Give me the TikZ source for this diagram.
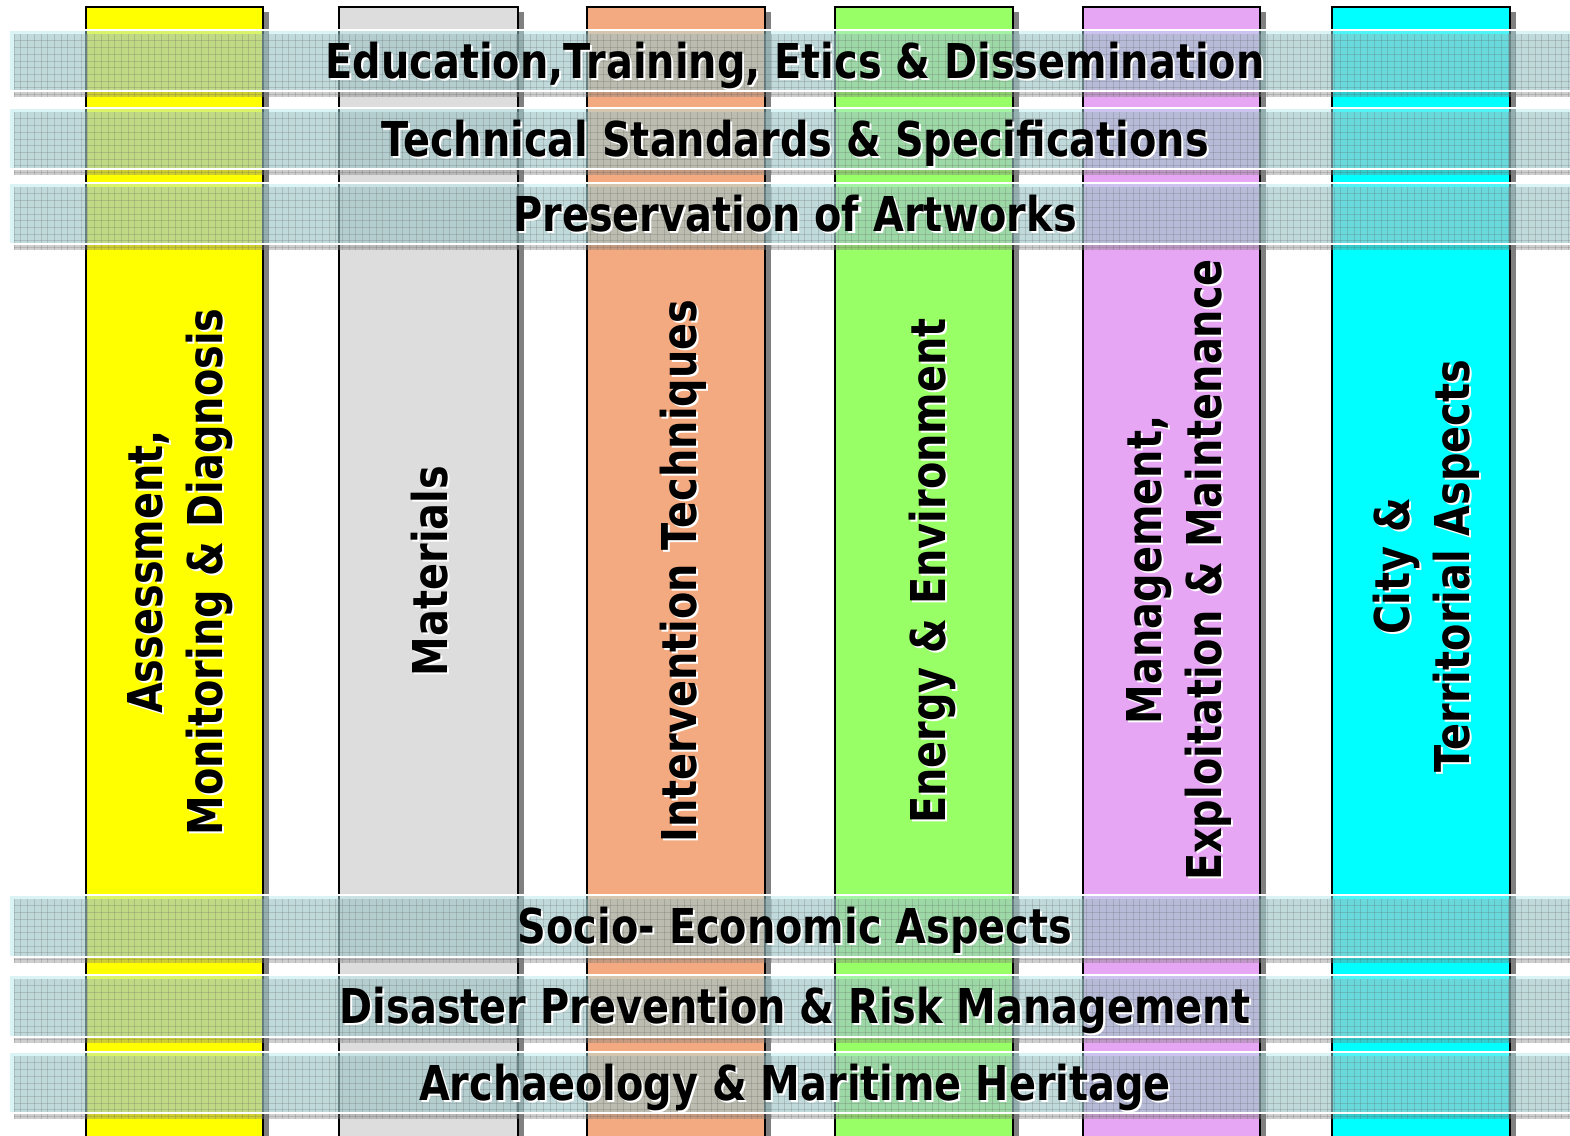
\documentclass[tikz,border=0pt]{standalone}
\usepackage{fontspec}
\newfontfamily\tfont[FakeStretch=0.83]{DejaVu Sans}
\definecolor{pyellow}{HTML}{FFFF00}
\definecolor{pgray}{HTML}{DDDDDD}
\definecolor{psalmon}{HTML}{F4AA80}
\definecolor{pgreen}{HTML}{99FF66}
\definecolor{pviolet}{HTML}{E6A6F4}
\definecolor{pcyan}{HTML}{00FFFF}
\definecolor{bandc}{RGB}{175,232,236}
\definecolor{pshadow}{HTML}{808080}
\newcommand\shh[1]{\makebox[0pt][l]{\hspace{2pt}\raisebox{-2pt}{\color{white}#1}}#1}
\newcommand\shv[1]{\makebox[0pt][l]{\hspace{-2pt}\raisebox{-2pt}{\color{white}#1}}#1}
\tikzset{
  pillarbox/.style={draw=black, line width=1.8pt},
  pillarshadow/.style={fill=pshadow},
  bandshadow/.style={fill=pshadow, fill opacity=0.38},
  bandfill/.style={fill=bandc, fill opacity=0.45},
  gridline/.style={draw=gray!70!black, line width=0.6pt, opacity=0.22},
  hlabel/.style={font=\tfont\bfseries\fontsize{48}{57}\selectfont, inner sep=0pt, anchor=base, text=black},
  vlabel/.style={font=\tfont\bfseries\fontsize{48}{57}\selectfont, inner sep=0pt, anchor=center, rotate=90, align=center, text=black},
}
\begin{document}
\begin{tikzpicture}[x=1pt,y=-1pt]
\useasboundingbox (0,0) rectangle (1570,1135);
\fill[white] (0,0) rectangle (1570,1135);
% pillars
\foreach \l/\r/\c in {86/263/pyellow, 339/518/pgray, 587/765/psalmon, 835/1013/pgreen, 1083/1260/pviolet, 1332/1510/pcyan}{
  \fill[pillarshadow] (\l+6,12) rectangle (\r+6,1145);
  \filldraw[pillarbox, fill=\c] (\l,7) rectangle (\r,1145);
}
% vertical labels
\node[vlabel] (c1) at (181.6,572) {\shv{Assessment,\strut}\\\shv{Monitoring \& Diagnosis\strut}};
\node[vlabel] (c2) at (436.6,571) {\shv{Materials\strut}};
\node[vlabel] (c3) at (685.6,571) {\shv{Intervention Techniques\strut}};
\node[vlabel] (c4) at (934.6,571) {\shv{Energy \& Environment\strut}};
\node[vlabel] (c5) at (1180.6,570) {\shv{Management,\strut}\\\shv{Exploitation \& Maintenance\strut}};
\node[vlabel] (c6) at (1428.6,566) {\shv{City \&\strut}\\\shv{Territorial Aspects\strut}};
% bands
\foreach \t/\b/\bl/\txt/\nm in {
  30/91/78/{Education,Training, Etics \& Dissemination}/b1,
  108/169/156/{Technical Standards \& Specifications}/b2,
  183/244/231/{Preservation of Artworks}/b3,
  895/957/943/{Socio- Economic Aspects}/b4,
  975/1037/1023/{Disaster Prevention \& Risk Management}/b5,
  1052/1113/1100/{Archaeology \& Maritime Heritage}/b6}{
  \fill[bandshadow] (14,\t+4) rectangle (1575,\b+6);
  \fill[bandfill] (10,\t) rectangle (1575,\b);
  \foreach \gx in {14,20.7,...,1575}{
    \draw[gridline] (\gx,\t+4) -- (\gx,\b+6);
  }
  \foreach \k in {1,...,9}{
    \draw[gridline] (14,\t+4+\k*6.7) -- (1575,\t+4+\k*6.7);
  }
  \draw[white, line width=1.3pt] (10,\t) -- (1575,\t);
  \draw[white, line width=1.3pt] (10,\b) -- (1575,\b);
  \node[hlabel] (\nm) at (795,\bl) {\shh{\txt}};
}
\end{tikzpicture}
\end{document}
